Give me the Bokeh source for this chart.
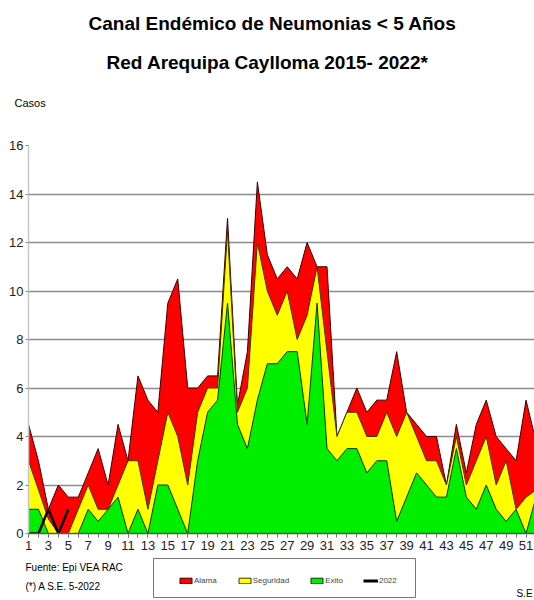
from bokeh.plotting import figure
from bokeh.models import Legend, LegendItem, FixedTicker, Range1d
from bokeh.embed import file_html
from bokeh.resources import INLINE
from bokeh.core.properties import value

# ---- data (weekly cases, epidemiological week 1..52) ----
weeks = list(range(1, 53))
alarma = [4.5, 3.0, 1.0, 2.0, 1.5, 1.5, 2.5, 3.5, 2.0, 4.5,
          3.0, 6.5, 5.5, 5.0, 9.5, 10.5, 6.0, 6.0, 6.5, 6.5,
          13.0, 5.3, 7.5, 14.5, 11.5, 10.5, 11.0, 10.5, 12.0, 11.0,
          11.0, 4.0, 5.0, 6.0, 5.0, 5.5, 5.5, 7.5, 5.0, 4.5,
          4.0, 4.0, 2.0, 4.5, 2.5, 4.5, 5.5, 4.0, 3.5, 3.0,
          5.5, 3.8]
seguridad = [3.0, 1.8, 0.6, 0.0, 0.0, 1.0, 2.0, 1.0, 1.0, 2.0,
             3.0, 3.0, 1.0, 3.0, 5.0, 4.0, 2.0, 5.0, 6.0, 6.0,
             12.5, 5.0, 6.0, 12.0, 10.0, 9.0, 10.0, 8.0, 9.0, 11.0,
             7.5, 4.0, 5.0, 5.0, 4.0, 4.0, 5.0, 4.0, 5.0, 4.0,
             3.0, 3.0, 2.0, 4.0, 2.0, 3.0, 4.0, 2.0, 3.0, 1.0,
             1.5, 1.8]
exito = [1.0, 1.0, 0.0, 0.0, 0.0, 0.0, 1.0, 0.5, 1.0, 1.5,
         0.0, 1.0, 0.0, 2.0, 2.0, 1.0, 0.0, 3.0, 5.0, 5.5,
         9.5, 4.5, 3.5, 5.5, 7.0, 7.0, 7.5, 7.5, 4.5, 9.5,
         3.5, 3.0, 3.5, 3.5, 2.5, 3.0, 3.0, 0.5, 1.5, 2.5,
         2.0, 1.5, 1.5, 3.5, 1.5, 1.0, 2.0, 1.0, 0.5, 1.0,
         0.0, 1.5]
weeks_2022 = [1, 2, 3, 4, 5]
casos_2022 = [0, 0, 1, 0, 1]

y_ticks = [0, 2, 4, 6, 8, 10, 12, 14, 16]
x_ticks = list(range(1, 52, 2))
x_minor = list(range(1, 53))

title_1 = "Canal Endémico de Neumonias < 5 Años"
title_2 = "Red Arequipa Caylloma 2015- 2022*"
y_label = "Casos"
x_label = "S.E"
source_note = "Fuente: Epi VEA RAC"
date_note = "(*) A S.E.  5-2022"
series_names = ["Alama", "Seguridad", "Exito", "2022"]

FONT = "Liberation Sans Narrow, Liberation Sans, sans-serif"
RED, YEL, GRN = "#FF0000", "#FFFF00", "#00EE00"
RED_L, YEL_L, GRN_L = "#3a0000", "#3a3a00", "#003a00"


def blank(height, y0, y1):
    f = figure(width=534, height=height, x_range=Range1d(0, 534),
               y_range=Range1d(y1, y0), x_axis_type=None, y_axis_type=None,
               output_backend="svg", toolbar_location=None, min_border=0)
    f.outline_line_color = None
    f.grid.grid_line_color = None
    return f


def txt(f, x, y, s, size, align="left", bold=False):
    f.text(x=[x], y=[y], text=[s], text_font=value(FONT), text_font_size=size,
           text_font_style="bold" if bold else "normal", text_align=align,
           text_baseline="middle", text_color="black")


# ---- header (titles) ----
head = blank(135, 0, 135)
txt(head, 272, 23, title_1, "19px", align="center", bold=True)
txt(head, 267, 62, title_2, "19px", align="center", bold=True)
txt(head, 14, 102, y_label, "11px")

# ---- main chart ----
p = figure(width=534, height=421, x_range=(1, 51.85), y_range=(0, 16),
           output_backend="svg", toolbar_location=None,
           min_border_left=28, min_border_right=0,
           min_border_top=10, min_border_bottom=23)
p.outline_line_color = None

p.xaxis.ticker = FixedTicker(ticks=x_ticks, minor_ticks=x_minor)
p.xaxis.major_label_text_font = FONT
p.xaxis.major_label_text_font_size = "13px"
p.xaxis.major_label_text_color = "#222222"
p.xaxis.axis_line_color = "#555555"
p.xaxis.axis_line_width = 1.5
p.xaxis.major_tick_line_color = "#777777"
p.xaxis.minor_tick_line_color = "#777777"
p.xaxis.major_tick_out = 4
p.xaxis.major_tick_in = 0
p.xaxis.minor_tick_out = 4
p.xaxis.minor_tick_in = 0
p.xaxis.major_label_standoff = 3

p.yaxis.ticker = FixedTicker(ticks=y_ticks)
p.yaxis.major_label_text_font = FONT
p.yaxis.major_label_text_font_size = "13px"
p.yaxis.major_label_text_color = "#222222"
p.yaxis.axis_line_color = "#c8c8c8"
p.yaxis.axis_line_width = 1.5
p.yaxis.major_tick_line_color = "#888888"
p.yaxis.major_tick_out = 3
p.yaxis.major_tick_in = 0
p.yaxis.minor_tick_line_color = None
p.yaxis.major_label_standoff = 2

p.xgrid.grid_line_color = None
p.ygrid.ticker = FixedTicker(ticks=y_ticks)
p.ygrid.grid_line_color = "#8c8c8c"
p.ygrid.grid_line_width = 1.5

zeros = [0] * len(weeks)
xs_area = weeks + weeks[::-1]
p.patch(xs_area, alarma + zeros[::-1], fill_color=RED, line_color=RED_L, line_width=1)
p.patch(xs_area, seguridad + zeros[::-1], fill_color=YEL, line_color=YEL_L, line_width=1)
p.patch(xs_area, exito + zeros[::-1], fill_color=GRN, line_color=GRN_L, line_width=1)
p.line(weeks_2022, casos_2022, line_color="black", line_width=2.5)

# ---- footer (notes + legend) ----
foot = blank(44, 556, 600)
txt(foot, 25, 567, source_note, "10px")
txt(foot, 25, 586, date_note, "10px")
txt(foot, 524, 593, x_label, "10px", align="center")
foot.quad(left=[153], right=[415], top=[558], bottom=[597],
          fill_color="white", line_color="#777777", line_width=1)

# legend-only helper glyphs, placed outside the visible range
off_x, off_y = [-60, -50, -50], [560, 560, 570]
lr = foot.patch(off_x, off_y, fill_color=RED, line_color=RED_L, line_width=1)
ly = foot.patch(off_x, off_y, fill_color=YEL, line_color=YEL_L, line_width=1)
lg = foot.patch(off_x, off_y, fill_color=GRN, line_color=GRN_L, line_width=1)
lk = foot.line(off_x, off_y, line_color="black", line_width=3)
legend = Legend(items=[LegendItem(label=series_names[0], renderers=[lr]),
                       LegendItem(label=series_names[1], renderers=[ly]),
                       LegendItem(label=series_names[2], renderers=[lg]),
                       LegendItem(label=series_names[3], renderers=[lk])],
                orientation="horizontal", location=(178, 13),
                padding=0, spacing=20, label_standoff=1, margin=0,
                glyph_width=15, glyph_height=7, label_width=0, label_height=14,
                label_text_font=FONT, label_text_font_size="8px",
                border_line_color=None, background_fill_alpha=0)
foot.add_layout(legend)

open("out.html", "w").write(file_html([head, p, foot], INLINE))
